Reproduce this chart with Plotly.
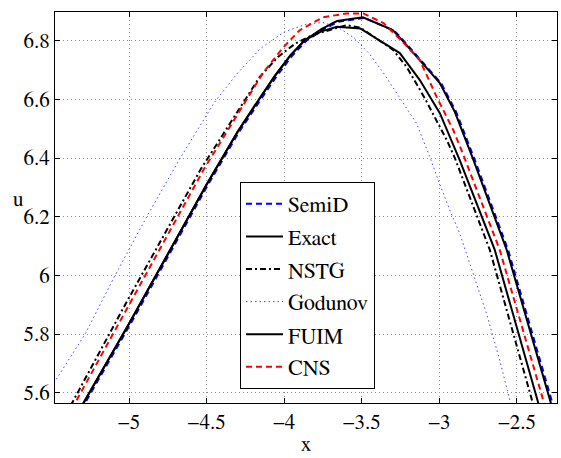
import plotly.graph_objects as go

# ---- data ----
semid_x = [-5.34, -4.99, -4.49, -4.29, -4.14, -4.05, -3.95, -3.857, -3.75, -3.65, -3.483, -3.29, -3.21, -3.097, -2.987, -2.89, -2.775, -2.556, -2.40, -2.247]
semid_y = [5.513, 5.835, 6.31, 6.49, 6.608, 6.678, 6.748, 6.80, 6.838, 6.865, 6.878, 6.834, 6.788, 6.722, 6.654, 6.555, 6.398, 6.085, 5.8, 5.52]

exact_x = [-5.35, -5.0, -4.5, -4.3, -4.15, -4.06, -3.96, -3.867, -3.76, -3.66, -3.493, -3.30, -3.22, -3.107, -2.997, -2.90, -2.785, -2.566, -2.41, -2.257]
exact_y = [5.513, 5.835, 6.31, 6.49, 6.61, 6.68, 6.75, 6.802, 6.84, 6.867, 6.88, 6.836, 6.79, 6.724, 6.656, 6.557, 6.40, 6.087, 5.8, 5.52]

nstg_x = [-5.42, -5.367, -5.02, -4.54, -4.16, -4.04, -3.93, -3.815, -3.60, -3.51, -3.30, -3.21, -3.094, -2.952, -2.90, -2.675, -2.39, -2.37]
nstg_y = [5.515, 5.565, 5.905, 6.36, 6.675, 6.745, 6.79, 6.82, 6.853, 6.845, 6.77, 6.71, 6.604, 6.461, 6.40, 6.087, 5.55, 5.50]

godunov_x = [-5.5, -5.283, -5.09, -4.886, -4.67, -4.45, -4.3, -4.15, -4.0, -3.85, -3.75, -3.65, -3.55, -3.45, -3.36, -3.244, -3.147, -3.062, -3.008, -2.933, -2.869, -2.783, -2.697, -2.611, -2.547, -2.52]
godunov_y = [5.62, 5.8, 6.0, 6.2, 6.4, 6.59, 6.69, 6.775, 6.83, 6.858, 6.862, 6.845, 6.81, 6.755, 6.69, 6.598, 6.518, 6.405, 6.325, 6.223, 6.143, 6.007, 5.871, 5.711, 5.575, 5.52]

fuim_x = [-5.35, -5.0, -4.5, -4.3, -4.15, -4.06, -3.96, -3.867, -3.76, -3.66, -3.51, -3.255, -3.126, -2.997, -2.869, -2.643, -2.353, -2.33]
fuim_y = [5.513, 5.835, 6.31, 6.49, 6.61, 6.68, 6.75, 6.802, 6.832, 6.848, 6.842, 6.758, 6.666, 6.553, 6.393, 6.087, 5.547, 5.50]

cns_x = [-5.40, -5.348, -5.0, -4.52, -4.137, -4.01, -3.90, -3.75, -3.60, -3.49, -3.36, -3.236, -3.126, -3.017, -2.91, -2.85, -2.611, -2.31, -2.29]
cns_y = [5.515, 5.565, 5.90, 6.36, 6.69, 6.775, 6.836, 6.88, 6.893, 6.893, 6.86, 6.796, 6.734, 6.608, 6.495, 6.417, 6.087, 5.54, 5.50]

x_ticks = [-5, -4.5, -4, -3.5, -3, -2.5]
y_ticks = [5.6, 5.8, 6.0, 6.2, 6.4, 6.6, 6.8]
y_tick_text = ["5.6", "5.8", "6", "6.2", "6.4", "6.6", "6.8"]

FONT = "FreeSerif, Nimbus Roman, Tinos, serif"

fig = go.Figure()
series = [
    ("SemiD", semid_x, semid_y, dict(color="rgb(0,0,255)", width=2, dash="6px,4px")),
    ("Exact", exact_x, exact_y, dict(color="black", width=2)),
    ("NSTG", nstg_x, nstg_y, dict(color="black", width=2, dash="6px,3px,2px,3px")),
    ("Godunov", godunov_x, godunov_y, dict(color="rgb(70,70,255)", width=1, dash="1.5px,3px")),
    ("FUIM", fuim_x, fuim_y, dict(color="black", width=2)),
    ("CNS", cns_x, cns_y, dict(color="rgb(255,0,0)", width=2, dash="6px,4px")),
]
for i, (name, xs, ys, ln) in enumerate(series):
    fig.add_trace(go.Scatter(x=xs, y=ys, mode="lines", name=name, line=ln,
                             legendgroup=f"g{i}"))

L, R, T, B = 55, 4, 12, 55
PW, PH = 561 - L - R, 458 - T - B

def px(xp):
    return (xp - L) / PW

def py(yp):
    return 1 - (yp - T) / PH

fig.update_layout(
    width=561, height=458,
    margin=dict(l=L, r=R, t=T, b=B),
    paper_bgcolor="white", plot_bgcolor="white",
    font=dict(family=FONT, size=21, color="black"),
    showlegend=True,
    legend=dict(x=px(240), y=py(182), xanchor="left", yanchor="top",
                bgcolor="white", bordercolor="black", borderwidth=1,
                font=dict(family=FONT, size=22), tracegroupgap=1,
                traceorder="grouped", itemwidth=37),
    xaxis=dict(range=[-5.477, -2.242], tickvals=x_ticks,
               showgrid=True, gridcolor="rgb(140,140,140)", griddash="1px,3px", gridwidth=1,
               showline=True, linecolor="black", linewidth=1, mirror="ticks",
               ticks="inside", ticklen=5, tickcolor="black", zeroline=False,
               tickfont=dict(family=FONT, size=21),
               title=dict(text="x", standoff=4, font=dict(family=FONT, size=21))),
    yaxis=dict(range=[5.565, 6.898], tickvals=y_ticks, ticktext=y_tick_text,
               showgrid=True, gridcolor="rgb(140,140,140)", griddash="1px,3px", gridwidth=1,
               showline=True, linecolor="black", linewidth=1, mirror="ticks",
               ticks="inside", ticklen=5, tickcolor="black", zeroline=False,
               tickfont=dict(family=FONT, size=21)),
    annotations=[dict(text="u", xref="paper", yref="paper", x=px(18), y=py(199),
                      showarrow=False, xanchor="center", yanchor="middle",
                      font=dict(family=FONT, size=21))],
)

fig.write_html("out.html")
